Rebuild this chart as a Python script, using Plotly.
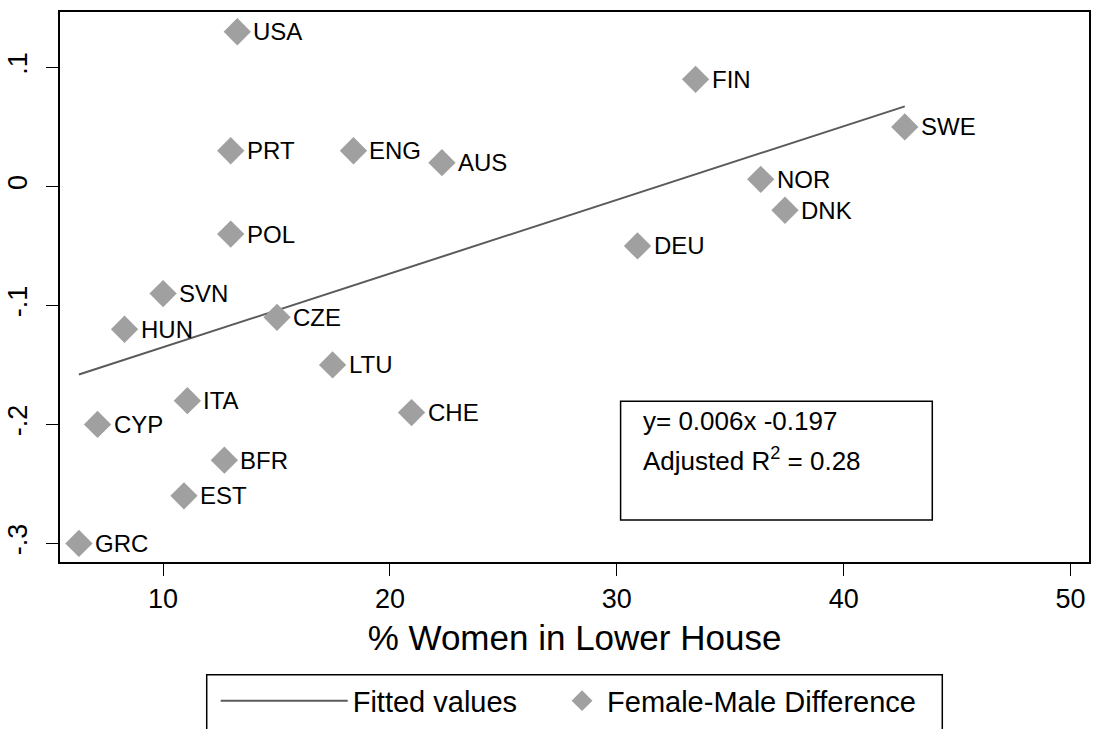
import numpy as np
import plotly.graph_objects as go

countries = ["USA", "FIN", "SWE", "PRT", "ENG", "AUS", "NOR", "DNK", "POL", "DEU",
             "SVN", "HUN", "CZE", "LTU", "ITA", "CHE", "CYP", "BFR", "EST", "GRC"]
pct_women = [13.27, 33.47, 42.69, 12.98, 18.39, 22.29, 36.34, 37.41, 12.98, 30.91,
             10.00, 8.30, 15.02, 17.47, 11.07, 20.95, 7.11, 12.70, 10.92, 6.29]
fm_diff = [0.13, 0.09, 0.05, 0.03, 0.03, 0.02, 0.006, -0.02, -0.04, -0.05,
           -0.09, -0.12, -0.11, -0.15, -0.18, -0.19, -0.20, -0.23, -0.26, -0.30]

x_ticks = [10, 20, 30, 40, 50]
y_ticks = [-0.3, -0.2, -0.1, 0, 0.1]
y_tick_text = ["-.3", "-.2", "-.1", "0", ".1"]

eq_text = "y= 0.006x -0.197"
r2_text = "Adjusted R<sup>2</sup> = 0.28"

xa = np.array(pct_women)
ya = np.array(fm_diff)
slope, intercept = np.polyfit(xa, ya, 1)
fit_x = np.array([xa.min(), xa.max()])
fit_y = slope * fit_x + intercept

FONT = "Liberation Sans, Arial, sans-serif"

fig = go.Figure()
fig.add_trace(go.Scatter(
    x=fit_x, y=fit_y, mode="lines", name="Fitted values",
    line=dict(color="#5a5a5a", width=2), legend="legend",
))
fig.add_trace(go.Scatter(
    x=pct_women, y=fm_diff, mode="markers", name="Female-Male Difference",
    marker=dict(symbol="diamond", size=21, color="#a0a0a0", line=dict(width=0)),
    legend="legend2",
))

for c, xv, yv in zip(countries, pct_women, fm_diff):
    fig.add_annotation(x=xv, y=yv, text=c, showarrow=False, xanchor="left",
                       yanchor="middle", xshift=14, yshift=0,
                       font=dict(family=FONT, size=24, color="black"))

# regression info box
fig.add_shape(type="rect", xref="paper", yref="paper",
              x0=0.5448, x1=0.8477, y0=0.0762, y1=0.2922,
              line=dict(color="black", width=1.5), fillcolor="rgba(0,0,0,0)")
fig.add_annotation(xref="paper", yref="paper", x=0.5642, y=0.2567, text=eq_text,
                   showarrow=False, xanchor="left", yanchor="middle",
                   font=dict(family=FONT, size=26, color="black"))
fig.add_annotation(xref="paper", yref="paper", x=0.5642, y=0.1869, text=r2_text,
                   showarrow=False, xanchor="left", yanchor="middle",
                   font=dict(family=FONT, size=26, color="black"))

# legend frame
fig.add_shape(type="rect", xref="paper", yref="paper",
              x0=(207 - 60) / 1031, x1=(944 - 60) / 1031, y0=-0.40, y1=-0.2051,
              line=dict(color="black", width=1.5), fillcolor="rgba(0,0,0,0)")

fig.update_layout(
    width=1094, height=729,
    margin=dict(l=60, r=3, t=12, b=166),
    paper_bgcolor="white", plot_bgcolor="white",
    font=dict(family=FONT, color="black"),
    showlegend=True,
    legend=dict(orientation="h", x=(216 - 60) / 1031, xanchor="left", y=-0.206, yanchor="top",
                borderwidth=0, bgcolor="rgba(0,0,0,0)",
                font=dict(family=FONT, size=29, color="black"),
                itemwidth=127),
    legend2=dict(orientation="h", x=(558 - 60) / 1031, xanchor="left", y=-0.206, yanchor="top",
                 borderwidth=0, bgcolor="rgba(0,0,0,0)",
                 font=dict(family=FONT, size=29, color="black"),
                 itemwidth=40),
    xaxis=dict(range=[5.456, 50.81], tickvals=x_ticks, showgrid=False, zeroline=False,
               showline=True, linecolor="black", linewidth=1.5, mirror=True,
               ticks="outside", ticklen=12, tickcolor="black", tickwidth=1,
               tickfont=dict(family=FONT, size=27, color="black"),
               title=dict(text="% Women in Lower House", standoff=12,
                          font=dict(family=FONT, size=35, color="black"))),
    yaxis=dict(range=[-0.3156, 0.1466], tickvals=y_ticks, ticktext=y_tick_text,
               showgrid=False, zeroline=False,
               showline=True, linecolor="black", linewidth=1.5, mirror=True,
               ticks="outside", ticklen=12, tickcolor="black", tickwidth=1,
               tickangle=-90, ticklabelstandoff=8,
               tickfont=dict(family=FONT, size=27, color="black")),
)

fig.write_html("out.html")
